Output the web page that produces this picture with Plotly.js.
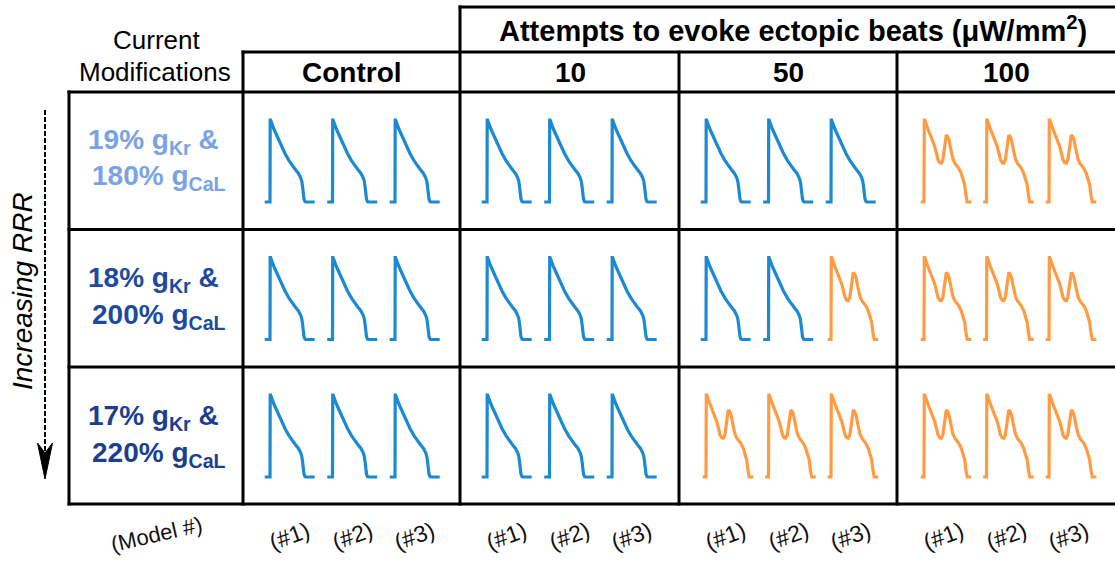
<!DOCTYPE html>
<html><head><meta charset="utf-8">
<script src="https://cdn.plot.ly/plotly-3.0.1.min.js"></script>
<style>html,body{margin:0;padding:0;background:#fff}</style>
</head><body><div id="chart" style="width:1115px;height:561px"></div>
<script>
// ---------- DATA ----------
// Normal action potential (time in ms from stimulus, membrane voltage in mV)
const normalAP_t = [-53, 0, 2, 6, 40, 75, 107, 150, 190, 207, 230, 257, 285, 307, 318, 326, 333, 340, 350, 357, 447];
const normalAP_v = [-85, -85, 30, 30, 17, 6, -3, -17, -27, -31, -35, -40, -45, -51, -56, -64, -75, -81, -84.5, -85, -85];
// Action potential with an ectopic (early after-depolarisation) beat
const ectopicAP_t = [-33, 0, 3, 8, 40, 73, 107, 125, 140, 158, 173, 188, 200, 212, 223, 235, 250, 270, 290, 310, 323, 350, 373, 395, 407, 418, 423, 432, 440, 473];
const ectopicAP_v = [-85, -85, 30, 30, 17, 5, -7, -17, -26, -30, -30.5, -26, -15, 2, 9, 7, 2, -12, -25, -31, -33, -38, -45, -54, -61, -74, -82, -85, -85, -85];
// Stimulus times of the three models shown in each cell (ms)
const beatTimes = [0, 625, 1250];

const columnLabels = ['Control', '10', '50', '100'];
const groupTitle = 'Attempts to evoke ectopic beats (μW/mm<sup>2</sup>)';
const rowLine1 = ['19% g<sub>Kr</sub> &', '18% g<sub>Kr</sub> &', '17% g<sub>Kr</sub> &'];
const rowLine2 = ['180% g<sub>CaL</sub>', '200% g<sub>CaL</sub>', '220% g<sub>CaL</sub>'];
const modelLabels = ['(#1)', '(#2)', '(#3)'];
// 1 = ectopic beat evoked (orange), 0 = none (blue); [row][column][model]
const ectopic = [
  [[0,0,0],[0,0,0],[0,0,0],[1,1,1]],
  [[0,0,0],[0,0,0],[0,0,1],[1,1,1]],
  [[0,0,0],[0,0,0],[1,1,1],[1,1,1]]
];

// ---------- LAYOUT ----------
const W = 1115, H = 561;
const px = x => x / W;
const py = y => 1 - y / H;
const FONT = 'Liberation Sans, Arial, sans-serif';
const BLUE = '#1b8ad3', ORANGE = '#ff9b42';
const rowColors = ['#7aa3e5', '#1d4aa0', '#1b3f8e'];

const colLeft = [243, 460, 679, 897];
const rowTop = [92, 229.5, 367];
const cellW = 218, cellH = 137;
const xRange = [-270, 1910];

const traces = [];
const layout = {
  width: W, height: H,
  margin: {l: 0, r: 0, t: 0, b: 0},
  paper_bgcolor: '#ffffff', plot_bgcolor: 'rgba(0,0,0,0)',
  showlegend: false,
  shapes: [], annotations: []
};

let k = 0;
for (let r = 0; r < 3; r++) {
  for (let c = 0; c < 4; c++) {
    k++;
    const xa = k === 1 ? 'x' : 'x' + k;
    const ya = k === 1 ? 'y' : 'y' + k;
    layout[k === 1 ? 'xaxis' : 'xaxis' + k] = {
      domain: [px(colLeft[c]), Math.min(1, px(colLeft[c] + cellW))],
      range: xRange, autorange: false, visible: false, fixedrange: true, anchor: ya
    };
    layout[k === 1 ? 'yaxis' : 'yaxis' + k] = {
      domain: [py(rowTop[r] + cellH), py(rowTop[r])],
      range: [-122.9, 69.3], autorange: false, visible: false, fixedrange: true, anchor: xa
    };
    for (let m = 0; m < 3; m++) {
      const e = ectopic[r][c][m];
      const tt = e ? ectopicAP_t : normalAP_t;
      const vv = e ? ectopicAP_v : normalAP_v;
      traces.push({
        type: 'scatter', mode: 'lines',
        x: tt.map(t => t + beatTimes[m]), y: vv,
        xaxis: xa, yaxis: ya,
        line: {color: e ? ORANGE : BLUE, width: 3.2},
        hoverinfo: 'skip'
      });
      if (r === 2) {
        // label centred under each beat (axis time -> paper position)
        const tMid = beatTimes[m] + 195;
        const xPix = colLeft[c] + (tMid - xRange[0]) / (xRange[1] - xRange[0]) * cellW;
        layout.annotations.push({
          xref: 'paper', yref: 'paper', x: px(xPix), y: py(536),
          xanchor: 'center', yanchor: 'middle',
          text: modelLabels[m], showarrow: false, textangle: -20,
          font: {family: FONT, size: 23, color: '#111'}
        });
      }
    }
  }
}

// table lines
const LW = 3;
function hline(y, x0, x1) {
  layout.shapes.push({type: 'line', xref: 'paper', yref: 'paper', x0: px(x0), x1: px(x1), y0: py(y), y1: py(y), line: {color: '#000', width: LW}});
}
function vline(x, y0, y1) {
  layout.shapes.push({type: 'line', xref: 'paper', yref: 'paper', x0: px(x), x1: px(x), y0: py(y0), y1: py(y1), line: {color: '#000', width: LW}});
}
hline(7, 458.5, 1115);
hline(52, 241.5, 1115);
hline(92, 67.5, 1115);
hline(229.5, 67.5, 1115);
hline(367, 67.5, 1115);
hline(504, 67.5, 1115);
vline(460, 5.5, 505.5);
vline(243, 50.5, 505.5);
vline(69, 90.5, 505.5);
vline(679, 50.5, 505.5);
vline(897, 50.5, 505.5);

// dashed arrow
layout.shapes.push({type: 'line', xref: 'paper', yref: 'paper', x0: px(45), x1: px(45), y0: py(110), y1: py(452),
  line: {color: '#000', width: 2, dash: '5px,2px'}});
layout.shapes.push({type: 'path', xref: 'paper', yref: 'paper',
  path: `M ${px(37.5)} ${py(443)} L ${px(45)} ${py(479)} L ${px(52.5)} ${py(443)} L ${px(45)} ${py(453)} Z`,
  fillcolor: '#000', line: {color: '#000', width: 1}});

function ann(text, x, y, size, opts) {
  layout.annotations.push(Object.assign({
    xref: 'paper', yref: 'paper', x: px(x), y: py(y), text: text, showarrow: false,
    xanchor: 'center', yanchor: 'middle',
    font: {family: FONT, size: size, color: '#000'}
  }, opts || {}));
}
ann('<b>' + groupTitle + '</b>', 793, 29, 29);
const colCenters = [352, 570, 788, 1006];
columnLabels.forEach((t, i) => ann('<b>' + t + '</b>', colCenters[i], 72, 28));
ann('Current', 156, 40, 26);
ann('Modifications', 155, 72, 26);
rowLine1.forEach((t, i) => {
  ann('<b>' + t + '</b>', 153, 141 + i * 138, 28, {font: {family: FONT, size: 28, color: rowColors[i]}});
  ann('<b>' + rowLine2[i] + '</b>', 159, 178 + i * 138, 28, {font: {family: FONT, size: 28, color: rowColors[i]}});
});
ann('<i>Increasing RRR</i>', 22, 291, 28, {textangle: -90});
ann('(Model #)', 156, 534, 22, {textangle: -13, font: {family: FONT, size: 22, color: '#111'}});

Plotly.newPlot('chart', traces, layout, {staticPlot: true, displayModeBar: false});
</script>
</body></html>
